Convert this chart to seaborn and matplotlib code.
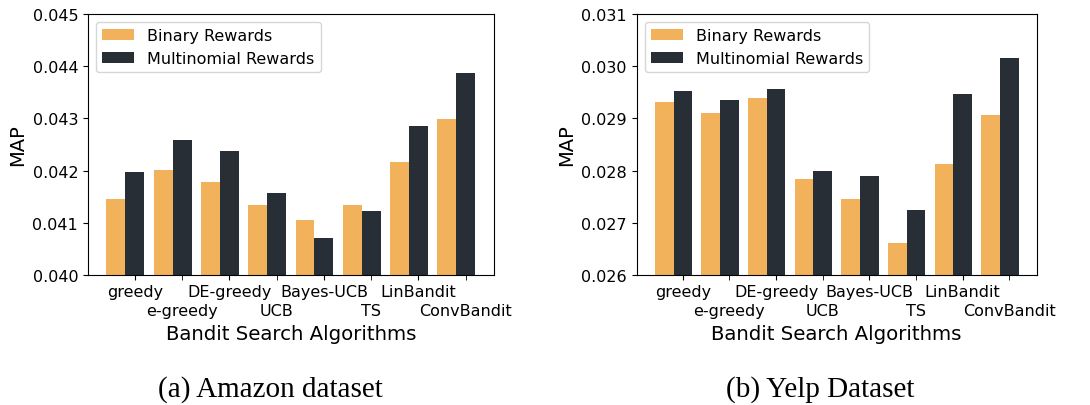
import numpy as np
import pandas as pd
import matplotlib
matplotlib.use("Agg")
import matplotlib.pyplot as plt
from matplotlib.patches import Patch
import seaborn as sns

algorithms = ["greedy", "e-greedy", "DE-greedy", "UCB", "Bayes-UCB", "TS", "LinBandit", "ConvBandit"]
reward_types = ["Binary Rewards", "Multinomial Rewards"]

amazon_binary = [0.04146, 0.04201, 0.04178, 0.04134, 0.04106, 0.04134, 0.04217, 0.04299]
amazon_multi = [0.04197, 0.04259, 0.04238, 0.04157, 0.04071, 0.04123, 0.04285, 0.04387]

yelp_binary = [0.02931, 0.02910, 0.02939, 0.02784, 0.02746, 0.02662, 0.02813, 0.02906]
yelp_multi = [0.02952, 0.02935, 0.02956, 0.02799, 0.02790, 0.02725, 0.02946, 0.03015]

amazon_yticks = [0.040, 0.041, 0.042, 0.043, 0.044, 0.045]
yelp_yticks = [0.026, 0.027, 0.028, 0.029, 0.030, 0.031]

captions = ["(a) Amazon dataset", "(b) Yelp Dataset"]

colors = {"Binary Rewards": "#F2B25C", "Multinomial Rewards": "#282E36"}


def long_frame(binary, multi):
    return pd.DataFrame({
        "algorithm": algorithms * 2,
        "reward": [reward_types[0]] * len(algorithms) + [reward_types[1]] * len(algorithms),
        "MAP": list(binary) + list(multi),
    })


fig = plt.figure(figsize=(10.9, 4.06), dpi=100)
ax_left = fig.add_axes([0.0807, 0.3195, 0.3722, 0.6443])
ax_right = fig.add_axes([0.5841, 0.3195, 0.3670, 0.6443])

panels = [
    (ax_left, amazon_binary, amazon_multi, amazon_yticks),
    (ax_right, yelp_binary, yelp_multi, yelp_yticks),
]

# category names alternate between two rows: even ones on major ticks,
# odd ones on minor ticks with a larger label pad
positions = np.arange(len(algorithms)) + 0.2
even_pos, odd_pos = positions[0::2], positions[1::2]
even_names, odd_names = algorithms[0::2], algorithms[1::2]

for ax, binary, multi, yticks in panels:
    df = long_frame(binary, multi)
    sns.barplot(data=df, x="algorithm", y="MAP", hue="reward", order=algorithms,
                hue_order=reward_types, palette=colors, saturation=1,
                width=0.8, ax=ax, legend=False)
    ax.set_ylim(yticks[0], yticks[-1])
    ax.set_yticks(yticks)
    ax.set_yticklabels([f"{t:.3f}" for t in yticks], fontsize=11.5)
    ax.set_xticks(even_pos)
    ax.set_xticklabels(even_names, fontsize=11.5)
    ax.set_xticks(odd_pos, minor=True)
    ax.set_xticklabels(odd_names, minor=True, fontsize=11.5)
    ax.set_xlim(-0.79, 7.79)
    ax.set_xlabel("Bandit Search Algorithms", fontsize=14.2, labelpad=4)
    ax.set_ylabel("MAP", fontsize=14)
    for side in ["top", "right", "left", "bottom"]:
        ax.spines[side].set_visible(True)
        ax.spines[side].set_color("black")
    ax.tick_params(axis="both", which="both", direction="out", length=3.5, color="black")
    ax.tick_params(axis="x", which="major", pad=3.0)
    ax.tick_params(axis="x", which="minor", pad=16.5)
    handles = [Patch(facecolor=colors[r], label=r) for r in reward_types]
    ax.legend(handles=handles, loc="upper left", fontsize=11.5)

fig.text(0.248, 0.022, captions[0], ha="center", va="baseline",
         family="Liberation Serif", fontsize=21)
fig.text(0.7528, 0.022, captions[1], ha="center", va="baseline",
         family="Liberation Serif", fontsize=21)

fig.savefig("out.png", dpi=100)
